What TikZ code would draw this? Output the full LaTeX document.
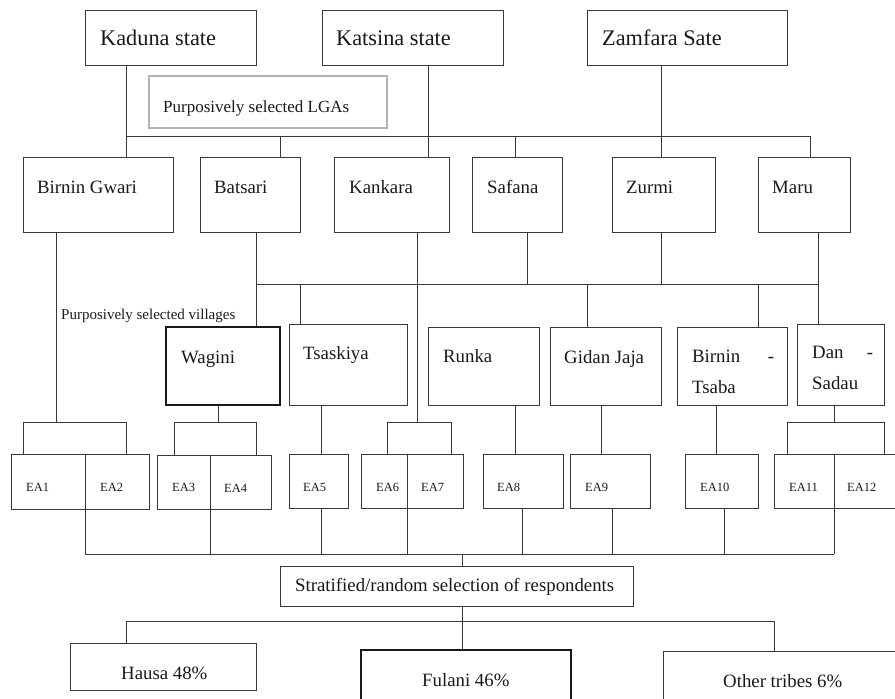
\documentclass[tikz,border=0pt]{standalone}
\usepackage{fontspec}
\setmainfont{Liberation Serif}
\usetikzlibrary{fit}

\begin{document}
\begin{tikzpicture}[x=1pt, y=-1pt,
  line/.style={draw=black!78, line width=0.9pt},
  box/.style={line, rectangle, inner sep=0pt},
  boldbox/.style={draw=black!90, line width=1.8pt, rectangle, inner sep=0pt},
  notebox/.style={draw=black!30, line width=1.6pt, rectangle, inner sep=0pt},
  txt/.style={inner sep=0pt, anchor=base west, text=black!90, font=\fontsize{18.8}{31}\selectfont},
  statetxt/.style={txt, font=\fontsize{22.3}{27}\selectfont},
  eatxt/.style={txt, font=\fontsize{12.5}{15}\selectfont}]
  \useasboundingbox (0,0) rectangle (895,699);
  \clip (0,0) rectangle (895,699);

  \node[box, fit={(85,10) (256,65)}] (kaduna) {};
  \node[box, fit={(322,10) (503,65)}] (katsina) {};
  \node[box, fit={(587,10) (787,65)}] (zamfara) {};
  \node[statetxt] (kadunatxt) at (100,45) {Kaduna state};
  \node[statetxt] (katsinatxt) at (336,45) {Katsina state};
  \node[statetxt] (zamfaratxt) at (602,45) {Zamfara Sate};
  \node[notebox, fit={(149,76) (387,128)}] (lganote) {};
  \node[txt, font=\fontsize{17}{20}\selectfont] (lganotetxt) at (163,112) {Purposively selected LGAs};

  \node[box, fit={(23,157) (173,232)}] (bgwari) {};
  \node[box, fit={(200,157) (300,232)}] (batsari) {};
  \node[box, fit={(334,157) (449,232)}] (kankara) {};
  \node[box, fit={(472,157) (562,232)}] (safana) {};
  \node[box, fit={(612,157) (715,232)}] (zurmi) {};
  \node[box, fit={(758,157) (850,232)}] (maru) {};
  \node[txt] (bgwaritxt) at (37,193) {Birnin Gwari};
  \node[txt] (batsaritxt) at (214,193) {Batsari};
  \node[txt] (kankaratxt) at (349,193) {Kankara};
  \node[txt] (safanatxt) at (487,193) {Safana};
  \node[txt] (zurmitxt) at (626,193) {Zurmi};
  \node[txt] (marutxt) at (772,193) {Maru};

  \node[txt, font=\fontsize{15}{18}\selectfont] (vilnotetxt) at (61,319) {Purposively selected villages};
  \node[boldbox, fit={(166,327) (280,405)}] (wagini) {};
  \node[box, fit={(289,324) (407,405)}] (tsaskiya) {};
  \node[box, fit={(428,327) (539,405)}] (runka) {};
  \node[box, fit={(550,327) (661,405)}] (gidan) {};
  \node[box, fit={(677,327) (787,405)}] (btsaba) {};
  \node[box, fit={(797,324) (884,405)}] (dsadau) {};
  \node[txt] (waginitxt) at (181,363) {Wagini};
  \node[txt] (tsaskiyatxt) at (303,359) {Tsaskiya};
  \node[txt] (runkatxt) at (443,362) {Runka};
  \node[txt] (gidantxt) at (564,363) {Gidan Jaja};
  \node[txt, text width=82pt, align=left] (btsabatxt) at (692,362) {Birnin\hfill-\\Tsaba};
  \node[txt, text width=61pt, align=left] (dsadautxt) at (812,358) {Dan\hfill-\\Sadau};

  \foreach \n/\xa/\ya/\xb/\yb/\xt in {ea1/11/454/85/509/26, ea2/85/454/149/509/100,
      ea3/157/455/210/509/172, ea4/210/455/271/509/224, ea5/289/454/348/508/303,
      ea6/361/454/407/508/376, ea7/407/454/463/508/421, ea8/483/454/563/508/497,
      ea9/570/454/650/508/585, ea10/685/454/758/508/700, ea11/774/454/834/508/789,
      ea12/834/454/905/508/847}
    \node[box, fit={(\xa,\ya) (\xb,\yb)}] (\n) {};
  \foreach \n/\xt/\yt in {1/26/491, 2/100/491, 3/172/491, 4/224/492, 5/303/491, 6/376/491,
      7/421/491, 8/497/491, 9/585/491, 10/700/491, 11/789/491, 12/847/491}
    \node[eatxt] (ea\n txt) at (\xt,\yt) {EA\n};

  \node[box, fit={(280,566) (633,606)}] (strat) {};
  \node[txt] (strattxt) at (295,591) {Stratified/random selection of respondents};
  \node[box, fit={(70,643) (256,690)}] (hausa) {};
  \node[boldbox, fit={(361,650) (571,715)}] (fulani) {};
  \node[box, fit={(663,651) (910,715)}] (other) {};
  \node[txt] (hausatxt) at (121,679) {Hausa 48\%};
  \node[txt] (fulanitxt) at (422,686) {Fulani 46\%};
  \node[txt] (othertxt) at (723,687) {Other tribes 6\%};

  % states to LGAs
  \coordinate (lgaL) at (126,136);
  \coordinate (lgaR) at (810,136);
  \draw[line] (lgaL |- kaduna.south) -- (lgaL |- bgwari.north);
  \draw[line] (lgaL) -- (lgaR) -- (lgaR |- maru.north);
  \draw[line] (428,0 |- katsina.south) -- (428,0 |- kankara.north);
  \draw[line] (661,0 |- zamfara.south) -- (661,0 |- zurmi.north);
  \foreach \x/\n in {280/batsari, 515/safana}
    \draw[line] (\x,0 |- lgaL) -- (\x,0 |- \n.north);

  % LGAs to villages
  \coordinate (vilL) at (256,284);
  \coordinate (vilR) at (818,284);
  \draw[line] (vilL |- batsari.south) -- (vilL |- wagini.north);
  \draw[line] (vilL) -- (vilR);
  \draw[line] (vilR |- maru.south) -- (vilR |- dsadau.north);
  \foreach \x/\n in {527/safana, 661/zurmi}
    \draw[line] (\x,0 |- \n.south) -- (\x,0 |- vilL);
  \foreach \x/\n in {300/tsaskiya, 587/gidan, 758/btsaba}
    \draw[line] (\x,0 |- vilL) -- (\x,0 |- \n.north);

  % villages to EAs
  \foreach \nup/\na/\nb/\xl/\xm/\xr in {bgwari/ea1/ea2/23/56/126, wagini/ea3/ea4/174/218/256,
      kankara/ea6/ea7/387/417/451, dsadau/ea11/ea12/787/834/884}
    \draw[line] (\xm,0 |- \nup.south) -- (\xm,422)
      (\xl,0 |- \na.north) |- (\xr,422) -- (\xr,0 |- \nb.north);
  \foreach \x/\nup/\n in {321/tsaskiya/ea5, 515/runka/ea8, 601/gidan/ea9, 716/btsaba/ea10}
    \draw[line] (\x,0 |- \nup.south) -- (\x,0 |- \n.north);

  % EAs to respondents
  \coordinate (eaL) at (85,554);
  \coordinate (eaR) at (834,554);
  \draw[line] (eaL) -- (eaR);
  \foreach \x in {85,210,321,407,522,612,724,834}
    \draw[line] (\x,0 |- ea8.south) -- (\x,0 |- eaL);
  \draw[line] (462,0 |- eaL) -- (462,0 |- strat.north);
  \draw[line] (462,0 |- strat.south) -- (462,0 |- fulani.north);
  \draw[line] (126,0 |- hausa.north) |- (774,621) -- (774,0 |- other.north);
\end{tikzpicture}
\end{document}
